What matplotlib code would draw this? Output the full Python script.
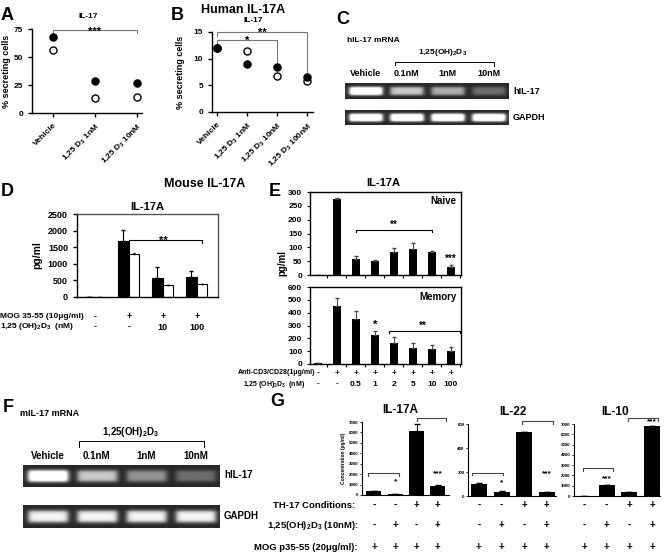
import numpy as np
import matplotlib
matplotlib.use('Agg')
import matplotlib.pyplot as plt
from matplotlib import transforms

plt.rcParams['font.family'] = ['Liberation Sans', 'DejaVu Sans']
plt.rcParams['font.weight'] = 'bold'
plt.rcParams['axes.titleweight'] = 'bold'
plt.rcParams['axes.labelweight'] = 'bold'
plt.rcParams['mathtext.fontset'] = 'custom'
plt.rcParams['mathtext.rm'] = 'Liberation Sans:bold'
plt.rcParams['mathtext.it'] = 'Liberation Sans:bold'
plt.rcParams['mathtext.bf'] = 'Liberation Sans:bold'
plt.rcParams['axes.linewidth'] = 1.0

# ---- data ----
a_doses = ['Vehicle', '1,25 D$_3$ 1nM', '1,25 D$_3$ 10nM']
a_filled = [68, 29, 27]
a_open = [56, 13, 14]

b_doses = ['Vehicle', '1,25 D$_3$ 1nM', '1,25 D$_3$ 10nM', '1,25 D$_3$ 100nM']
b_filled = [12, 9, 8.4, 6.6]
b_open = [12, 11.4, 6.8, 5.8]

gel_lanes = ['Vehicle', '0.1nM', '1nM', '10nM']
c_il17 = [1.25, 0.75, 0.62, 0.32]
c_gapdh = [1.3, 1.3, 1.3, 1.3]

d_mog = ['-', '+', '+', '+']
d_vitd = ['-', '-', '10', '100']
d_filled = [10, 1700, 560, 610]
d_filled_err = [0, 320, 340, 170]
d_open = [10, 1300, 350, 380]
d_open_err = [0, 20, 10, 10]

e_cd3 = ['-', '+', '+', '+', '+', '+', '+', '+']
e_vitd = ['-', '-', '0.5', '1', '2', '5', '10', '100']
e_naive = [0, 275, 57, 52, 82, 95, 82, 30]
e_naive_err = [0, 4, 10, 3, 15, 20, 5, 5]
e_memory = [5, 450, 350, 225, 160, 128, 118, 100]
e_memory_err = [1, 65, 60, 35, 50, 35, 30, 30]

f_il17 = [1.3, 0.75, 0.5, 0.32]
f_gapdh = [0.95, 0.95, 0.95, 0.95]

g_th17 = ['-', '-', '+', '+']
g_vitd = ['-', '+', '-', '+']
g_mog = ['+', '+', '+', '+']
g_il17a = [350, 50, 6100, 850]
g_il17a_err = [30, 10, 750, 80]
g_il22 = [100, 35, 530, 30]
g_il22_err = [5, 3, 5, 5]
g_il10 = [30, 1050, 380, 6800]
g_il10_err = [0, 30, 20, 30]

W, H = 664, 556
fig = plt.figure(figsize=(W / 100, H / 100), dpi=100)

# overlay in pixel coordinates for free text
ov = fig.add_axes([0, 0, 1, 1], zorder=10)
ov.set_xlim(0, W)
ov.set_ylim(H, 0)
ov.axis('off')


def px_axes(x0, y0, x1, y1):
    return fig.add_axes([x0 / W, 1 - y1 / H, (x1 - x0) / W, (y1 - y0) / H])


def bracket(ax, x0, x1, y, d0, d1, color='black', lw=0.8):
    ax.plot([x0, x0, x1, x1], [d0, y, y, d1], color=color, lw=lw, clip_on=False)


def row_text(ax, labels, ypx, size):
    tr = transforms.blended_transform_factory(ax.transData, ov.transData)
    for i, s in enumerate(labels):
        ax.text(i, ypx, s, transform=tr, ha='center', va='center', fontsize=size)


def gel(ax, levels):
    n = len(levels)
    cols = np.linspace(0, n, 40 * n, endpoint=False)
    frac = cols % 1
    lane = cols.astype(int)
    hprof = 1 / (1 + np.exp(-(frac - 0.1) / 0.03)) / (1 + np.exp((frac - 0.9) / 0.03))
    rows = np.linspace(0, 1, 30)
    vprof = np.exp(-((rows - 0.5) / 0.28) ** 4)
    img = 0.16 + 0.84 * np.outer(vprof, hprof * np.array(levels)[lane])
    img = np.clip(img, 0, 1)
    ax.imshow(img, cmap='gray', vmin=0, vmax=1, aspect='auto',
              interpolation='bilinear', extent=(0, n, 1, 0))
    ax.set_xticks([])
    ax.set_yticks([])
    for s in ax.spines.values():
        s.set_visible(False)


def lane_labels(ax, labels, ypx, size):
    tr = transforms.blended_transform_factory(ax.transData, ov.transData)
    for i, s in enumerate(labels):
        ax.text(i + 0.5, ypx, s, transform=tr, ha='center', va='center', fontsize=size)


def open_axes(ax):
    ax.spines['top'].set_visible(False)
    ax.spines['right'].set_visible(False)


# ---- panel A ----
axA = px_axes(32, 29, 142, 113)
x = np.arange(len(a_doses))
axA.scatter(x, a_open, s=26, facecolor='white', edgecolor='black', lw=1, zorder=3, clip_on=False)
axA.scatter(x, a_filled, s=26, color='black', zorder=3, clip_on=False)
axA.set_xlim(-0.5, 2.12)
axA.set_ylim(0, 75)
axA.set_yticks([0, 25, 50, 75])
axA.set_xticks(x)
axA.set_xticklabels(a_doses, rotation=45, ha='right', rotation_mode='anchor', fontsize=7)
axA.tick_params(labelsize=6, length=3, width=1)
open_axes(axA)
bracket(axA, 0, 2, 74.5, 69.5, 71.5, color='#777777')
axA.text(1, 70, '***', ha='center', va='baseline', fontsize=8)
axA.set_ylabel('% secreting cells', fontsize=6.5, labelpad=2)

# ---- panel B ----
axB = px_axes(212, 32, 313, 112)
x = np.arange(len(b_doses))
axB.scatter(x, b_open, s=26, facecolor='white', edgecolor='black', lw=1, zorder=3, clip_on=False)
axB.scatter(x, b_filled, s=26, color='black', zorder=3, clip_on=False)
axB.set_xlim(-0.17, 3.2)
axB.set_ylim(0, 15)
axB.set_yticks([0, 5, 10, 15])
axB.set_xticks(x)
axB.set_xticklabels(b_doses, rotation=45, ha='right', rotation_mode='anchor', fontsize=7)
axB.tick_params(labelsize=6, length=3, width=1)
open_axes(axB)
bracket(axB, 0, 3, 15, 14.3, 7.3, color='#777777')
bracket(axB, 0, 2, 13.5, 12.9, 9.2, color='#777777')
axB.text(1.5, 14.2, '**', ha='center', va='baseline', fontsize=8)
axB.text(1, 12.7, '*', ha='center', va='baseline', fontsize=8)
axB.set_ylabel('% secreting cells', fontsize=6.5, labelpad=6)

ov.text(7, 16, 'A', fontsize=13, ha='center', va='center')
ov.text(88, 17, 'IL-17', fontsize=6, ha='center', va='center')
ov.text(177, 16, 'B', fontsize=13, ha='center', va='center')
ov.text(243, 10, 'Human IL-17A', fontsize=9, ha='center', va='center')
ov.text(253, 20, 'IL-17', fontsize=6, ha='center', va='center')

# ---- panel C ----
axC1 = px_axes(345, 83, 509, 99)
gel(axC1, c_il17)
axC2 = px_axes(345, 110, 509, 125)
gel(axC2, c_gapdh)
lane_labels(axC1, gel_lanes, 74, 6.5)
ov.text(343, 20, 'C', fontsize=13, ha='center', va='center')
ov.text(373, 40, 'hIL-17 mRNA', fontsize=6, ha='center', va='center')
ov.text(443, 52, '1,25(OH)$_2$D$_3$', fontsize=6, ha='center', va='center')
ov.plot([395, 395, 494, 494], [65, 61.5, 61.5, 66], color='black', lw=0.7)
ov.text(513, 92, 'hIL-17', fontsize=6.5, ha='left', va='center')
ov.text(513, 118, 'GAPDH', fontsize=6.5, ha='left', va='center')

# ---- panel D ----
axD = px_axes(77, 214, 218, 297)
x = np.arange(len(d_filled))
axD.bar(x - 0.17, d_filled, width=0.33, color='black', edgecolor='black', lw=0.8,
        yerr=[np.zeros(len(x)), d_filled_err], error_kw=dict(lw=0.8, capsize=1.5, ecolor='black'))
axD.bar(x + 0.145, d_open, width=0.28, color='white', edgecolor='black', lw=0.8,
        yerr=[np.zeros(len(x)), d_open_err], error_kw=dict(lw=0.6, capsize=1, ecolor='black'))
axD.set_xlim(-0.53, 3.62)
axD.set_ylim(0, 2500)
axD.set_yticks(range(0, 2501, 500))
axD.set_xticks([])
axD.tick_params(labelsize=6.5, length=3, width=1)
for s in axD.spines.values():
    s.set_color('#555555')
axD.spines['left'].set_color('black')
axD.spines['bottom'].set_color('black')
bracket(axD, 1.0, 3.15, 1720, 1690, 1640)
axD.text(2.0, 1600, '**', ha='center', va='baseline', fontsize=8)
axD.set_title('IL-17A', fontsize=8, pad=3, fontweight='bold')
axD.set_ylabel('pg/ml', fontsize=7.5, labelpad=4)
row_text(axD, d_mog, 317, 6.5)
row_text(axD, d_vitd, 327, 6.5)
ov.text(0, 317, 'MOG 35-55 (10\u03bcg/ml)', fontsize=6, ha='left', va='center')
ov.text(0, 327, '1,25 (OH)$_2$D$_3$  (nM)', fontsize=6, ha='left', va='center')
ov.text(7, 191, 'D', fontsize=13, ha='center', va='center')
ov.text(205, 184, 'Mouse IL-17A', fontsize=9, ha='center', va='center')

# ---- panel E ----
x = np.arange(len(e_naive))
axE1 = px_axes(310, 192, 461, 275)
axE1.bar(x, e_naive, width=0.42, color='black',
         yerr=[np.zeros(len(x)), e_naive_err], error_kw=dict(lw=0.7, capsize=1.2, ecolor='#444444'))
axE1.set_xlim(-0.42, 7.53)
axE1.set_ylim(0, 300)
axE1.set_yticks(range(0, 301, 50))
axE1.set_xticks(x + 0.5)
axE1.set_xticklabels([])
axE1.tick_params(labelsize=6, length=2, width=0.8)
axE1.text(0.97, 0.95, 'Naive', transform=axE1.transAxes, ha='right', va='top', fontsize=7)
bracket(axE1, 2, 6, 163, 157, 157)
axE1.text(4, 163, '**', ha='center', va='bottom', fontsize=7)
axE1.text(7, 42, '***', ha='center', va='bottom', fontsize=7)

axE2 = px_axes(310, 287, 461, 364)
axE2.bar(x, e_memory, width=0.42, color='black',
         yerr=[np.zeros(len(x)), e_memory_err], error_kw=dict(lw=0.7, capsize=1.2, ecolor='#444444'))
axE2.set_xlim(-0.42, 7.53)
axE2.set_ylim(0, 600)
axE2.set_yticks(range(0, 601, 100))
axE2.set_xticks(x + 0.5)
axE2.set_xticklabels([])
axE2.tick_params(labelsize=6, length=2, width=0.8)
axE2.text(0.97, 0.93, 'Memory', transform=axE2.transAxes, ha='right', va='top', fontsize=7)
bracket(axE2, 3.75, 7.47, 257, 245, 245)
axE2.text(5.5, 257, '**', ha='center', va='bottom', fontsize=7)
axE2.text(3, 265, '*', ha='center', va='bottom', fontsize=8)
row_text(axE2, e_cd3, 373, 6)
row_text(axE2, e_vitd, 384, 6)
ov.text(238, 373, 'Anti-CD3/CD28(1\u03bcg/ml)', fontsize=5, ha='left', va='center')
ov.text(243, 384, '1,25 (OH)$_2$D$_3$  (nM)', fontsize=5, ha='left', va='center')
ov.text(282, 263, 'pg/ml', fontsize=7, rotation=90, ha='center', va='center')
ov.text(275, 192, 'E', fontsize=13, ha='center', va='center')
ov.text(383, 183, 'IL-17A', fontsize=8, ha='center', va='center')

# ---- panel F ----
axF1 = px_axes(23, 465, 220, 487)
gel(axF1, f_il17)
axF2 = px_axes(23, 505, 220, 528)
gel(axF2, f_gapdh)
lane_labels(axF1, gel_lanes, 456, 7)
ov.text(8, 407, 'F', fontsize=13, ha='center', va='center')
ov.text(20, 413, 'mIL-17 mRNA', fontsize=6.5, ha='left', va='center')
ov.text(131, 432, '1,25(OH)$_2$D$_3$', fontsize=7, ha='center', va='center')
ov.plot([79, 79, 204, 204], [447, 441, 441, 447], color='black', lw=0.7)
ov.text(224, 475, 'hIL-17', fontsize=7, ha='left', va='center')
ov.text(224, 516, 'GAPDH', fontsize=7, ha='left', va='center')


# ---- panel G ----
def g_axes(box, vals, errs, ymax, step, xlim, title, title_xy):
    ax = px_axes(*box)
    x = np.arange(len(vals))
    ax.bar(x, vals, width=0.7, color='black',
           yerr=[np.zeros(len(x)), errs], error_kw=dict(lw=0.8, capsize=2.5, ecolor='black'))
    ax.set_xlim(*xlim)
    ax.set_ylim(0, ymax)
    ax.set_yticks(np.arange(0, ymax + 1, step))
    ax.set_xticks([])
    ax.tick_params(labelsize=3.2, length=1.5, width=0.6, pad=1)
    open_axes(ax)
    for s in ax.spines.values():
        s.set_linewidth(0.8)
    ov.text(title_xy[0], title_xy[1], title, fontsize=8.5, ha='center', va='center')
    row_text(ax, g_th17, 505, 7)
    row_text(ax, g_vitd, 525, 7)
    row_text(ax, g_mog, 547, 7)
    return ax


axG1 = g_axes((362, 422, 449, 495), g_il17a, g_il17a_err, 7000, 1000, (-0.56, 3.52), 'IL-17A', (400, 410))
bracket(axG1, -0.28, 1.17, 2100, 1800, 1800, color='#444444')
bracket(axG1, 2.0, 3.4, 7400, 7050, 7050, color='#444444')
axG1.text(1, 900, '*', ha='center', va='bottom', fontsize=6)
axG1.text(3, 1700, '***', ha='center', va='bottom', fontsize=6)
axG1.set_ylabel('Concentration (pg/ml)', fontsize=3.5, labelpad=2)

axG2 = g_axes((468, 424, 556, 496), g_il22, g_il22_err, 600, 200, (-0.48, 3.4), 'IL-22', (513, 412))
bracket(axG2, -0.3, 1.05, 192, 172, 172, color='#444444')
bracket(axG2, 1.9, 3.26, 625, 600, 600, color='#444444')
axG2.text(1, 85, '*', ha='center', va='bottom', fontsize=6)
axG2.text(3, 160, '***', ha='center', va='bottom', fontsize=6)

axG3 = g_axes((574, 424, 660, 496), g_il10, g_il10_err, 7000, 1000, (-0.44, 3.35), 'IL-10', (615, 412))
bracket(axG3, -0.04, 1.28, 2720, 2400, 2400, color='#444444')
bracket(axG3, 1.94, 3.26, 7580, 7250, 7250, color='#444444')
axG3.text(1, 1350, '***', ha='center', va='bottom', fontsize=6)
axG3.text(3, 6850, '***', ha='center', va='bottom', fontsize=6)

ov.text(355, 505, 'TH-17 Conditions:', fontsize=6.8, ha='right', va='center')
ov.text(358, 525, '1,25(OH)$_2$D$_3$ (10nM):', fontsize=6.8, ha='right', va='center')
ov.text(357, 547, 'MOG p35-55 (20\u03bcg/ml):', fontsize=6.8, ha='right', va='center')
ov.text(277, 402, 'G', fontsize=13, ha='center', va='center')

fig.savefig('out.png', dpi=100)
